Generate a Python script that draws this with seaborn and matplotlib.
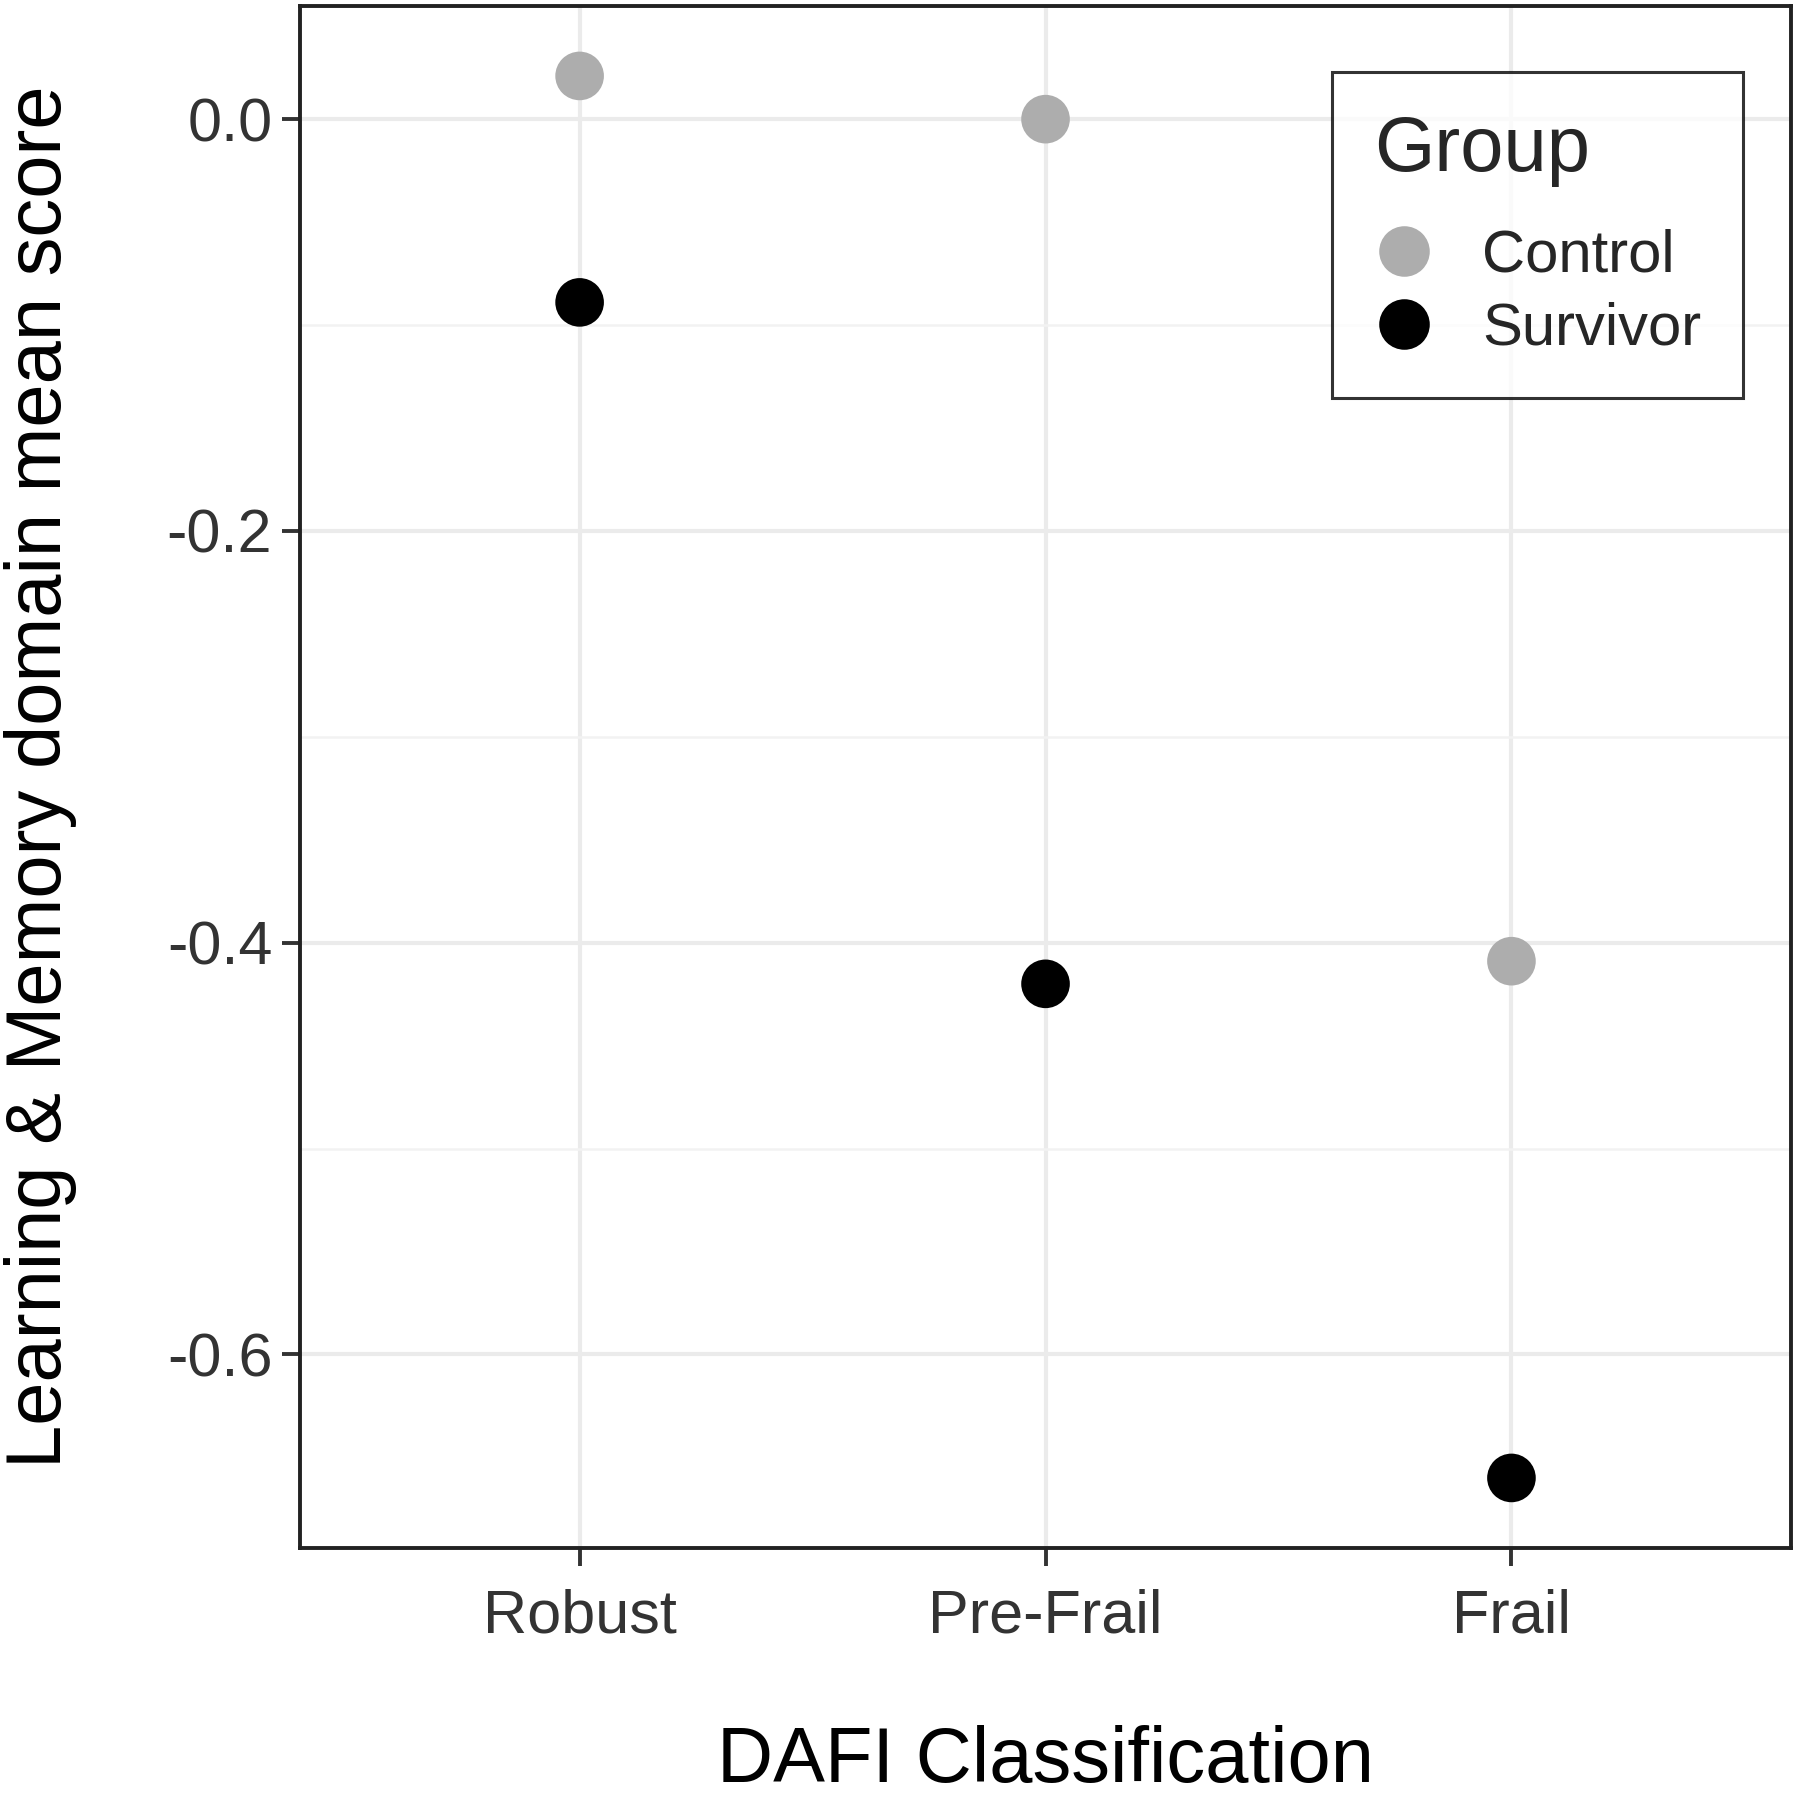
import matplotlib
matplotlib.use("Agg")
import matplotlib.pyplot as plt
import seaborn as sns
import pandas as pd

categories = ["Robust", "Pre-Frail", "Frail"]
groups = ["Control", "Survivor"]
control_scores = [0.021, 0.0, -0.409]
survivor_scores = [-0.089, -0.420, -0.660]
y_ticks = [0.0, -0.2, -0.4, -0.6]
y_tick_labels = ["0.0", "-0.2", "-0.4", "-0.6"]
minor_ticks = [-0.1, -0.3, -0.5]

df = pd.DataFrame({
    "DAFI": categories * 2,
    "Group": [groups[0]] * 3 + [groups[1]] * 3,
    "score": control_scores + survivor_scores,
})

sns.set_theme(style="white")
plt.rcParams["font.family"] = ["Liberation Sans", "DejaVu Sans"]

fig = plt.figure(figsize=(18, 17.97), dpi=100)
ax = fig.add_axes([0.1667, 0.1386, 0.8283, 0.8581])

palette = {"Control": "#ADADAD", "Survivor": "#000000"}
sns.stripplot(data=df, x="DAFI", y="score", hue="Group", order=categories,
              hue_order=groups, palette=palette, jitter=False, dodge=False,
              size=35, linewidth=0, ax=ax, zorder=3)

ax.set_xlim(-0.6, 2.6)
ax.set_ylim(-0.694, 0.055)
ax.set_yticks(y_ticks)
ax.set_yticklabels(y_tick_labels)
ax.set_yticks(minor_ticks, minor=True)
ax.grid(True, which="major", color="#EBEBEB", linewidth=3.0, zorder=0)
ax.grid(True, which="minor", axis="y", color="#F2F2F2", linewidth=1.8, zorder=0)
ax.set_axisbelow(True)

for s in ax.spines.values():
    s.set_visible(True)
    s.set_color("#222222")
    s.set_linewidth(2.8)

ax.tick_params(axis="both", which="major", length=13, width=2.8, color="#333333",
               labelsize=44, labelcolor="#333333", left=True, bottom=True)
ax.tick_params(axis="y", which="major", pad=7)
ax.tick_params(axis="x", which="major", pad=16)
ax.tick_params(axis="y", which="minor", length=0)

ax.set_xlabel("DAFI Classification", fontsize=56, color="black")
ax.set_ylabel("Learning & Memory domain mean score", fontsize=56, color="black")
ax.xaxis.set_label_coords(0.5, -0.1388)
ax.yaxis.set_label_coords(-0.1744, 0.5)
ax.xaxis.label.set_va("center")
ax.yaxis.label.set_va("center")

handles, labels = ax.get_legend_handles_labels()
leg = ax.legend(handles, labels, title="Group", loc="upper right",
                bbox_to_anchor=(0.968, 0.957), borderaxespad=0.0,
                frameon=True, fancybox=False,
                edgecolor="black", fontsize=43, title_fontsize=56,
                markerscale=1.04, handlelength=1.0, handletextpad=0.82,
                labelspacing=0.3, borderpad=0.7, alignment="left")
leg.get_frame().set_linewidth(2.2)
leg._legend_box.sep = 30

fig.savefig("out.png", dpi=100)
